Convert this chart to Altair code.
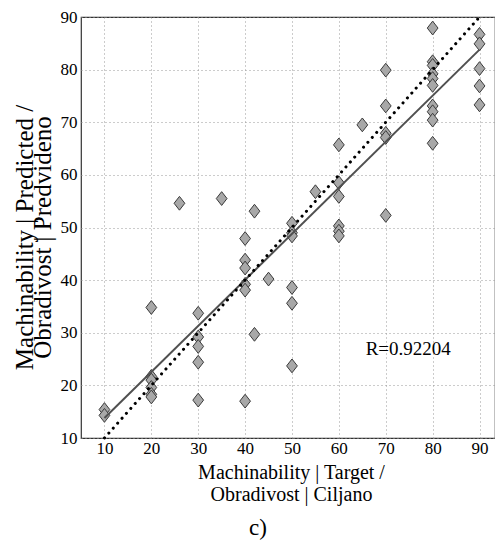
import altair as alt
import pandas as pd

# Scatter data
target = [10, 10,
          20, 20, 20, 20, 20, 20,
          26,
          30, 30, 30, 30, 30,
          35,
          40, 40, 40, 40, 40, 40,
          42, 42,
          45,
          50, 50, 50, 50, 50, 50,
          55,
          60, 60, 60, 60, 60, 60,
          65,
          70, 70, 70, 70, 70,
          80, 80, 80, 80, 80, 80, 80, 80, 80, 80,
          90, 90, 90, 90, 90]
predicted = [15.4, 14.3,
             34.8, 21.7, 21.0, 19.6, 18.3, 17.8,
             54.6,
             33.7, 29.2, 27.4, 24.4, 17.2,
             55.5,
             47.9, 43.8, 42.3, 39.2, 38.1, 17.0,
             53.1, 29.7,
             40.2,
             50.8, 49.0, 48.4, 38.6, 35.6, 23.7,
             56.8,
             65.7, 58.5, 55.9, 50.3, 49.3, 48.4,
             69.5,
             79.9, 73.1, 67.9, 67.1, 52.3,
             87.9, 81.5, 80.8, 79.2, 78.3, 77.0, 73.1, 72.0, 70.4, 66.0,
             86.7, 84.9, 80.2, 76.9, 73.3]

# Regression (fit) line endpoints and ideal Y = T line
fit_x = [10, 90]
fit_y = [13.8, 83.8]
ideal_x = [10, 90]
ideal_y = [10, 90]

ticks = [10, 20, 30, 40, 50, 60, 70, 80, 90]
r_label = "R=0.92204"
r_pos = (74.8, 25.7)

FONT = "Liberation Serif"

pts = pd.DataFrame({"t": target, "p": predicted})
fit = pd.DataFrame({"t": fit_x, "p": fit_y})
ideal = pd.DataFrame({"t": ideal_x, "p": ideal_y})
lab = pd.DataFrame({"t": [r_pos[0]], "p": [r_pos[1]], "txt": [r_label]})

xs = alt.Scale(domain=[5, 93.3], nice=False, zero=False)
ys = alt.Scale(domain=[10, 90], nice=False, zero=False)

xenc = alt.X("t:Q", scale=xs, axis=alt.Axis(
    values=ticks, title=["Machinability | Target /", "Obradivost |  Ciljano"],
    titleFontSize=20, labelPadding=2,
    titleX=210, titleY=40, titleAlign="center", titleBaseline="alphabetic",
    titleLineHeight=22, labelFlush=False))
yenc = alt.Y("p:Q", scale=ys, axis=alt.Axis(
    values=ticks, title=["Machinability | Predicted /", "Obradivost | Predvideno"],
    titleFontSize=25,
    titleAngle=-90, titleX=-49, titleY=220, titleAlign="center",
    titleBaseline="alphabetic", titleLineHeight=18, labelFlush=False))

points = alt.Chart(pts).mark_point(
    shape="M0,-1L0.78,0L0,1L-0.78,0Z", size=190, filled=True,
    fill="#a8a8a8", stroke="#3a3a3a", strokeWidth=1, opacity=1, fillOpacity=1
).encode(x=xenc, y=yenc)

fit_line = alt.Chart(fit).mark_line(color="#505050", strokeWidth=2).encode(
    x="t:Q", y="p:Q")

ideal_line = alt.Chart(ideal).mark_line(
    color="black", strokeWidth=3, strokeDash=[0.1, 6.5], strokeCap="round"
).encode(x="t:Q", y="p:Q")

rtext = alt.Chart(lab).mark_text(
    font=FONT, fontSize=19, color="black", align="center", baseline="alphabetic"
).encode(x="t:Q", y="p:Q", text="txt:N")

chart = alt.layer(points, fit_line, ideal_line, rtext).properties(
    width=414, height=421,
    padding={"left": 73, "top": 9, "right": 0, "bottom": 103},
    autosize=alt.AutoSizeParams(type="none"),
    background="white",
    title=alt.TitleParams("c)", orient="bottom", font=FONT, fontSize=23,
                          fontWeight="normal", color="black", dx=-30,
                          baseline="alphabetic", offset=31),
).configure_view(
    stroke="#333333", strokeWidth=1.2
).configure_axis(
    labelFont=FONT, labelFontSize=17, labelColor="black", labelPadding=4,
    titleFont=FONT, titleFontWeight="normal", titleColor="black",
    grid=True, gridDash=[1, 3], gridColor="#999999", gridWidth=1,
    ticks=False, domain=False
)

chart.save("out.html", embed_options={"renderer": "svg", "actions": False})
